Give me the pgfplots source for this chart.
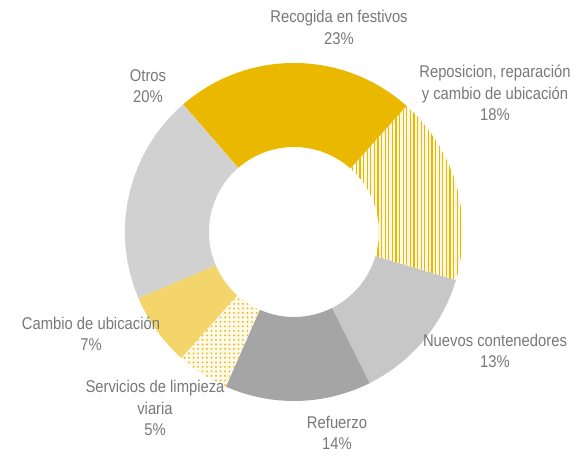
\documentclass[border=0pt]{standalone}
\usepackage{fontspec}
\setmainfont[FakeStretch=0.87]{Liberation Sans}
\usepackage{pgfplots}
\usepackage{pgfplotstable}
\pgfplotsset{compat=1.18}
\usetikzlibrary{patterns,patterns.meta}
\definecolor{gold}{RGB}{235,184,0}
\definecolor{pgray}{RGB}{165,165,165}
\definecolor{txt}{RGB}{120,120,120}
\tikzset{
  slice0/.style={fill=gold},
  slice1/.style={fill=gold!10,postaction={pattern={Lines[angle=90,distance=3.6pt,line width=1.1pt]},pattern color=gold}},
  slice2/.style={fill=pgray!45,postaction={pattern={Dots[distance=2pt,radius=0.6pt]},pattern color=pgray!90!black}},
  slice3/.style={fill=pgray},
  slice4/.style={fill=gold!8,postaction={pattern={Dots[distance=4.5pt,radius=1pt]},pattern color=gold}},
  slice5/.style={fill=gold!45,postaction={pattern={Dots[distance=2pt,radius=0.6pt]},pattern color=gold}},
  slice6/.style={fill=pgray!35,postaction={pattern={Dots[distance=2pt,radius=0.55pt]},pattern color=pgray}},
}
\pgfplotstableread{
pct
23
18
13
14
5
7
20
}\piedata
\begin{document}
\begin{tikzpicture}
\begin{axis}[
  hide axis, scale only axis,
  width=578pt, height=457pt,
  xmin=0, xmax=578, ymin=0, ymax=457,
]
\addplot[draw=none] coordinates {(0,0) (578,457)};
\gdef\astart{131}
\pgfplotsforeachungrouped \i in {0,...,6}{%
  \pgfplotstablegetelem{\i}{pct}\of\piedata
  \pgfmathsetmacro\aend{\astart-3.6*\pgfplotsretval}%
  \edef\temp{\noexpand\path[slice\i] ([shift={(\astart:169pt)}]axis cs:294,225) arc[start angle=\astart, end angle=\aend, radius=169pt] -- ([shift={(\aend:85pt)}]axis cs:294,225) arc[start angle=\aend, end angle=\astart, radius=85pt] -- cycle;}%
  \temp
  \global\let\astart\aend
}
\tikzset{lbl/.style={align=center,text=txt,font=\fontsize{17}{21.5}\selectfont,inner sep=0pt}}
\node[lbl] at (axis cs:339,429.5) {Recogida en festivos\\23\%};
\node[lbl] at (axis cs:495,364) {Reposicion, reparación\\y cambio de ubicación\\18\%};
\node[lbl] at (axis cs:495,106) {Nuevos contenedores\\13\%};
\node[lbl] at (axis cs:337,24) {Refuerzo\\14\%};
\node[lbl] at (axis cs:155,49) {Servicios de limpieza\\viaria\\5\%};
\node[lbl] at (axis cs:91,123) {Cambio de ubicación\\7\%};
\node[lbl] at (axis cs:148,371) {Otros\\20\%};
\end{axis}
\pgfresetboundingbox
\path[use as bounding box] (current axis.south west) rectangle (current axis.north east);
\end{tikzpicture}
\end{document}
